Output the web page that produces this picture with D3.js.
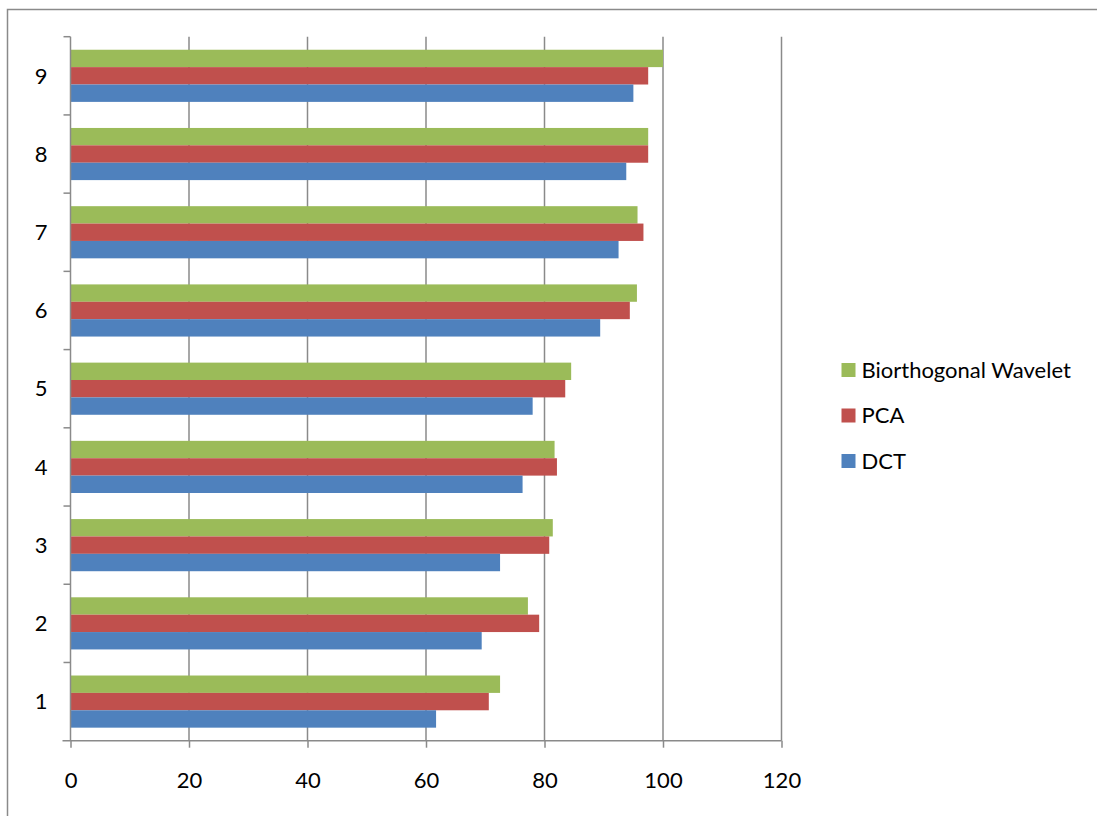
<!DOCTYPE html>
<html>
<head>
<meta charset="utf-8">
<script src="https://cdn.jsdelivr.net/npm/d3@7"></script>
<style>
  html, body { margin: 0; padding: 0; background: #fff; }
  svg text { font-family: Lato, "Open Sans", sans-serif; fill: #000; }
</style>
</head>
<body>
<svg id="chart" width="1097" height="816"></svg>
<script>
// Category labels (bottom to top on the chart)
const categories = ["1", "2", "3", "4", "5", "6", "7", "8", "9"];
// Series, listed in legend order (top to bottom)
const seriesNames = ["Biorthogonal Wavelet", "PCA", "DCT"];
const waveletValues = [72.5, 77.2, 81.4, 81.7, 84.5, 95.6, 95.7, 97.5, 100];
const pcaValues     = [70.6, 79.1, 80.8, 82.1, 83.5, 94.4, 96.7, 97.5, 97.5];
const dctValues     = [61.7, 69.4, 72.5, 76.3, 78.0, 89.4, 92.5, 93.8, 95.0];
const seriesColors  = ["#9BBB59", "#C0504D", "#4F81BD"];
const xTicks = [0, 20, 40, 60, 80, 100, 120];

const seriesValues = [waveletValues, pcaValues, dctValues];
const rows = categories.map((c, i) => ({
  cat: c,
  values: seriesNames.map((s, k) => ({ series: s, value: seriesValues[k][i], color: seriesColors[k] }))
}));

const svg = d3.select("#chart");
const gridColor = "#8a8a8a";
const fontSize = 22;

// Outer chart frame
svg.append("rect")
  .attr("x", 7.5).attr("y", 9.5)
  .attr("width", 1200).attr("height", 900)
  .attr("fill", "none").attr("stroke", gridColor).attr("stroke-width", 1.5);

const plot = { left: 70.5, right: 781.5, top: 36.7, bottom: 740.7 };

const x = d3.scaleLinear().domain([0, 120]).range([plot.left, plot.right]);
const y = d3.scaleBand()
  .domain(categories.slice().reverse())
  .range([plot.top, plot.bottom])
  .paddingInner(0).paddingOuter(0);

// Bars within each category: gap width 50%
const bw = y.bandwidth();
const groupH = bw / 1.5;
const inner = d3.scaleBand()
  .domain(seriesNames)
  .range([(bw - groupH) / 2, (bw + groupH) / 2]);

// Vertical gridlines
svg.append("g")
  .selectAll("line")
  .data(xTicks.filter(t => t > 0))
  .join("line")
  .attr("x1", d => x(d)).attr("x2", d => x(d))
  .attr("y1", plot.top).attr("y2", plot.bottom)
  .attr("stroke", gridColor).attr("stroke-width", 1.5);

// Bars
const groups = svg.append("g")
  .selectAll("g")
  .data(rows)
  .join("g")
  .attr("transform", d => `translate(0,${y(d.cat)})`);

groups.selectAll("rect")
  .data(d => d.values)
  .join("rect")
  .attr("x", x(0))
  .attr("y", d => inner(d.series))
  .attr("width", d => x(d.value) - x(0))
  .attr("height", inner.bandwidth())
  .attr("fill", d => d.color);

// X axis
const xAxis = d3.axisBottom(x).tickValues(xTicks).tickSize(7);
const gx = svg.append("g")
  .attr("transform", `translate(0,${plot.bottom})`)
  .call(xAxis);
gx.select(".domain").attr("stroke", gridColor).attr("stroke-width", 1.5)
  .attr("d", `M${plot.left - 8},0H${plot.right}`);
gx.selectAll(".tick line").attr("stroke", gridColor).attr("stroke-width", 1.5);
gx.selectAll(".tick text")
  .attr("y", 40).attr("dy", "0.35em")
  .attr("font-size", fontSize)
  .style("font-family", "Lato, sans-serif");

// Y axis: ticks on category boundaries
const gy = svg.append("g").attr("transform", `translate(${plot.left},0)`);
gy.append("line")
  .attr("x1", 0).attr("x2", 0)
  .attr("y1", plot.top).attr("y2", plot.bottom)
  .attr("stroke", gridColor).attr("stroke-width", 1.5);
const boundaries = y.domain().map(c => y(c));
gy.selectAll(".btick")
  .data(boundaries)
  .join("line")
  .attr("class", "btick")
  .attr("x1", -7).attr("x2", 0)
  .attr("y1", d => d).attr("y2", d => d)
  .attr("stroke", gridColor).attr("stroke-width", 1.5);
gy.selectAll(".ylab")
  .data(y.domain())
  .join("text")
  .attr("class", "ylab")
  .attr("x", -29.5)
  .attr("y", d => y(d) + bw / 2)
  .attr("dy", "0.35em")
  .attr("text-anchor", "middle")
  .attr("font-size", fontSize)
  .text(d => d);

// Legend
const legend = svg.append("g").attr("transform", "translate(841.5,370)");
const li = legend.selectAll("g")
  .data(seriesNames)
  .join("g")
  .attr("transform", (d, i) => `translate(0,${i * 45.5})`);
li.append("rect")
  .attr("x", 0).attr("y", -7)
  .attr("width", 14).attr("height", 14)
  .attr("fill", (d, i) => seriesColors[i]);
li.append("text")
  .attr("x", 20).attr("y", 0)
  .attr("dy", "0.35em")
  .attr("font-size", fontSize)
  .text(d => d);
</script>
</body>
</html>
